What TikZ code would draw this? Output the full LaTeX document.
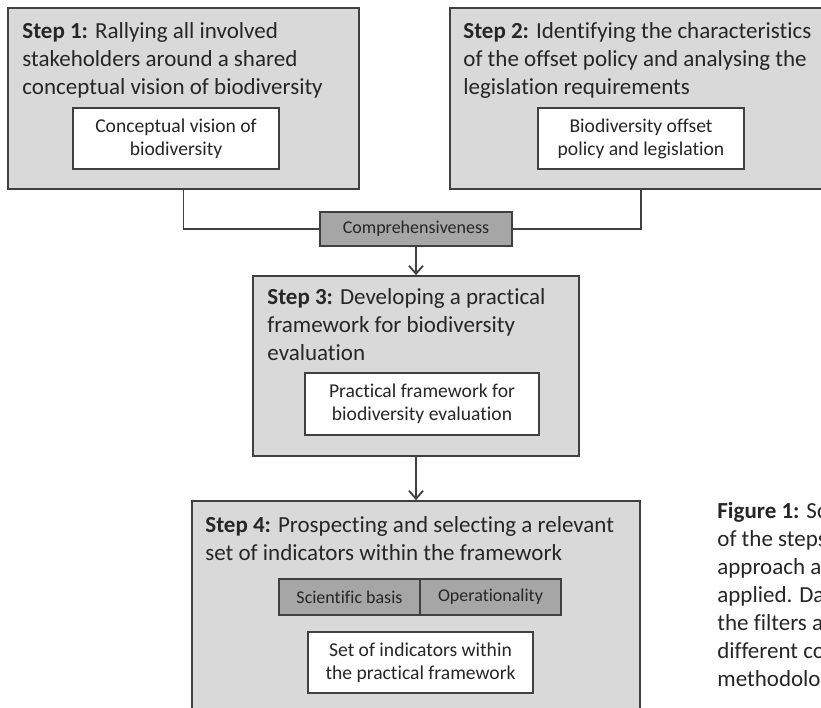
\documentclass[tikz,border=0pt]{standalone}
\usepackage{fontspec}
\setmainfont{Carlito}[Ligatures=NoCommon]
\usetikzlibrary{arrows.meta,shadows}
\definecolor{boxgray}{HTML}{D9D9D9}
\definecolor{filtergray}{HTML}{A6A6A6}
\definecolor{linegray}{HTML}{404040}
\definecolor{txt}{HTML}{262626}
\begin{document}
\begin{tikzpicture}[x=0.5pt,y=-0.5pt,
  boxshadow/.style={drop shadow={shadow xshift=0.5pt,shadow yshift=-0.7pt,fill=black!45,opacity=1}},
  stepbox/.style={draw=linegray,line width=0.9pt,fill=boxgray,inner sep=0pt,boxshadow},
  innerbox/.style={draw=linegray,line width=0.8pt,fill=white,align=center,inner sep=0pt,
    font=\fontsize{9.8}{11.5}\selectfont,text=txt,boxshadow},
  filterbox/.style={draw=linegray,line width=0.8pt,fill=filtergray,inner sep=0pt,
    font=\fontsize{9}{11}\selectfont,text=txt},
  steptitle/.style={anchor=north west,align=left,inner sep=0pt,
    font=\fontsize{11.5}{14}\selectfont,text=txt},
  conn/.style={draw=linegray,line width=0.9pt},
  arr/.style={conn,-{Straight Barb[length=4pt,width=7pt]}}
]
\clip (0,0) rectangle (821,708);
\fill[white] (0,0) rectangle (821,708);

% Step 1
\node[stepbox,minimum width=175.5pt,minimum height=90.5pt] (s1) at (183.5,98.5) {};
\node[steptitle] (t1) at (22,22) {\textbf{Step 1:} Rallying all involved\\stakeholders around a shared\\conceptual vision of biodiversity};
\node[innerbox,minimum width=103pt,minimum height=30.5pt] (i1) at (176,138.5) {Conceptual vision of\\biodiversity};

% Step 2
\node[stepbox,minimum width=191pt,minimum height=90.5pt] (s2) at (641,98.5) {};
\node[steptitle] (t2) at (463,22) {\textbf{Step 2:} Identifying the characteristics\\of the offset policy and analysing the\\legislation requirements};
\node[innerbox,minimum width=103pt,minimum height=30.5pt] (i2) at (641,138.5) {Biodiversity offset\\policy and legislation};

% Comprehensiveness filter
\node[filterbox,minimum width=96pt,minimum height=17pt] (comp) at (416,229) {Comprehensiveness};

% Step 3
\node[stepbox,minimum width=163pt,minimum height=90pt] (s3) at (416,366) {};
\node[steptitle] (t3) at (267,288) {\textbf{Step 3:} Developing a practical\\framework for biodiversity\\evaluation};
\node[innerbox,minimum width=117pt,minimum height=31pt] (i3) at (422,404) {Practical framework for\\biodiversity evaluation};

% Step 4
\node[stepbox,minimum width=224pt,minimum height=104.5pt] (s4) at (416,605.5) {};
\node[steptitle] (t4) at (205,516) {\textbf{Step 4:} Prospecting and selecting a relevant\\set of indicators within the framework};
\node[filterbox,minimum width=70.5pt,minimum height=18pt] (f1) at (349.5,597) {Scientific basis};
\node[filterbox,minimum width=70.5pt,minimum height=18pt] (f2) at (490.5,597) {Operationality};
\node[innerbox,minimum width=112.5pt,minimum height=30.5pt] (i4) at (420.5,662.5) {Set of indicators within\\the practical framework};

% Connectors
\draw[conn] (s1.south) |- (comp.west);
\draw[conn] (s2.south) |- (comp.east);
\draw[arr] (comp.south) -- (s3.north);
\draw[arr] (s3.south) -- (s4.north);

% Caption (cut by the right edge, as in the reference)
\node[steptitle] (cap) at (717,502) {\textbf{Figure 1:} Sc\\of the steps\\approach a\\applied. Da\\the filters a\\different co\\methodolog};
\end{tikzpicture}
\end{document}
